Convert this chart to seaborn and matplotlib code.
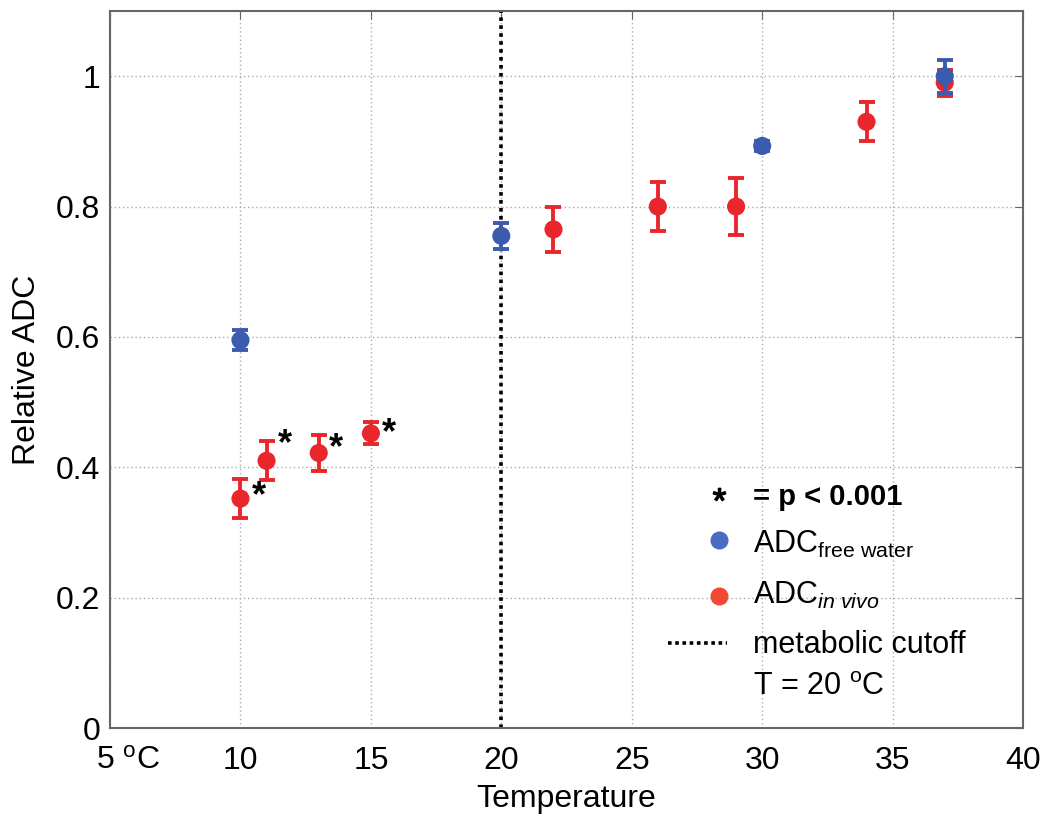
import matplotlib
matplotlib.use("Agg")
import matplotlib.pyplot as plt
import matplotlib.transforms as mtrans
import seaborn as sns
import pandas as pd

# ---- data ----
water_temp = [10, 20, 30, 37]
water_adc = [0.595, 0.755, 0.893, 1.0]
water_err = [0.015, 0.02, 0.007, 0.025]

vivo_temp = [10, 11, 13, 15, 22, 26, 29, 34, 37]
vivo_adc = [0.352, 0.41, 0.422, 0.452, 0.765, 0.80, 0.80, 0.93, 0.99]
vivo_err = [0.03, 0.03, 0.028, 0.017, 0.035, 0.037, 0.044, 0.03, 0.02]

sig_temp = [10, 11, 13, 15]
sig_adc = [0.352, 0.41, 0.422, 0.452]

xticks = [5, 10, 15, 20, 25, 30, 35, 40]
xticklabels = ["5 $^{\\mathrm{o}}$C", "10", "15", "20", "25", "30", "35", "40"]
yticks = [0, 0.2, 0.4, 0.6, 0.8, 1.0]
yticklabels = ["0", "0.2", "0.4", "0.6", "0.8", "1"]

legend_labels = ["= p < 0.001",
                 "ADC$_{\\mathrm{free\\ water}}$",
                 "ADC$_{\\mathit{in\\ vivo}}$",
                 "metabolic cutoff",
                 "T = 20 $^{\\mathrm{o}}$C"]

sns.set_style("white")
plt.rcParams["font.family"] = ["Liberation Sans", "DejaVu Sans"]
plt.rcParams["mathtext.fontset"] = "custom"
plt.rcParams["mathtext.rm"] = "Liberation Sans"
plt.rcParams["mathtext.it"] = "Liberation Sans:italic"
plt.rcParams["text.color"] = "black"
plt.rcParams["axes.labelcolor"] = "black"

BLUE = "#3b5cae"
RED = "#e8262c"
LBLUE = "#4a6cc0"
LRED = "#f04a34"

fig = plt.figure(figsize=(10.5, 8.35), dpi=100)
ax = fig.add_axes([0.1048, 0.1281, 0.8695, 0.8587])

dw = pd.DataFrame({"T": water_temp, "ADC": water_adc, "err": water_err})
dv = pd.DataFrame({"T": vivo_temp, "ADC": vivo_adc, "err": vivo_err})

ax.axvline(20, color="black", ls=(0, (1, 1.2)), lw=2.6, zorder=2)

ax.errorbar(dv["T"], dv["ADC"], yerr=dv["err"], fmt="none", ecolor=RED,
            elinewidth=2.8, capsize=6, capthick=2.8, zorder=3)
sns.scatterplot(data=dv, x="T", y="ADC", ax=ax, color=RED, s=170,
                edgecolor="none", zorder=4)
ax.errorbar(dw["T"], dw["ADC"], yerr=dw["err"], fmt="none", ecolor=BLUE,
            elinewidth=2.8, capsize=6, capthick=2.8, zorder=5)
sns.scatterplot(data=dw, x="T", y="ADC", ax=ax, color=BLUE, s=170,
                edgecolor="none", zorder=6)

offsets = [(8, 1.5), (8, 11.5), (7, 3), (8, 0)]
for t, a, off in zip(sig_temp, sig_adc, offsets):
    ax.annotate("*", (t, a), xytext=off, textcoords="offset points",
                fontsize=26, fontweight="bold", ha="left", va="center",
                color="black")

ax.set_xlim(5, 40)
ax.set_ylim(0, 1.1)
ax.set_xticks(xticks)
ax.set_xticklabels(xticklabels)
ax.set_yticks(yticks)
ax.set_yticklabels(yticklabels)
ax.grid(True, color="#aaaaaa", ls=(0, (1, 2)), lw=1)
ax.tick_params(direction="in", top=True, right=True, length=6,
               labelsize=23, color="#666666", labelcolor="black")
ax.tick_params(axis="x", pad=13)
ax.tick_params(axis="y", pad=7)
first = ax.get_xticklabels()[0]
first.set_ha("left")
first.set_transform(first.get_transform() +
                    mtrans.ScaledTranslation(-10 / 72, 0, fig.dpi_scale_trans))
for s in ax.spines.values():
    s.set_color("#666666")
    s.set_linewidth(1.5)
ax.set_xlabel("Temperature", fontsize=23, labelpad=6, color="black")
ax.set_ylabel("Relative ADC", fontsize=23, labelpad=10, color="black")

# ---- legend (drawn in axes-fraction coordinates, MATLAB-style layout) ----
T = ax.transAxes
mx = 0.667
tx = 0.704
ax.plot([mx], [0.327], marker="$*$", color="black", markersize=9,
        transform=T, clip_on=False, ls="none")
ax.plot([mx], [0.262], marker="o", color=LBLUE, markersize=12,
        transform=T, clip_on=False, ls="none")
ax.plot([mx], [0.184], marker="o", color=LRED, markersize=12,
        transform=T, clip_on=False, ls="none")
ax.plot([0.611, 0.676], [0.1185, 0.1185], color="black", ls=(0, (1, 1)),
        lw=2.6, transform=T, clip_on=False)
baselines = [0.311, 0.244, 0.173, 0.1046, 0.046]
for lab, yb in zip(legend_labels, baselines):
    w = "bold" if lab.startswith("=") else "normal"
    fs = 21 if w == "bold" else 22
    ax.text(tx, yb, lab, transform=T, fontsize=fs, fontweight=w,
            ha="left", va="baseline", color="black")

fig.savefig("out.png", dpi=100)
